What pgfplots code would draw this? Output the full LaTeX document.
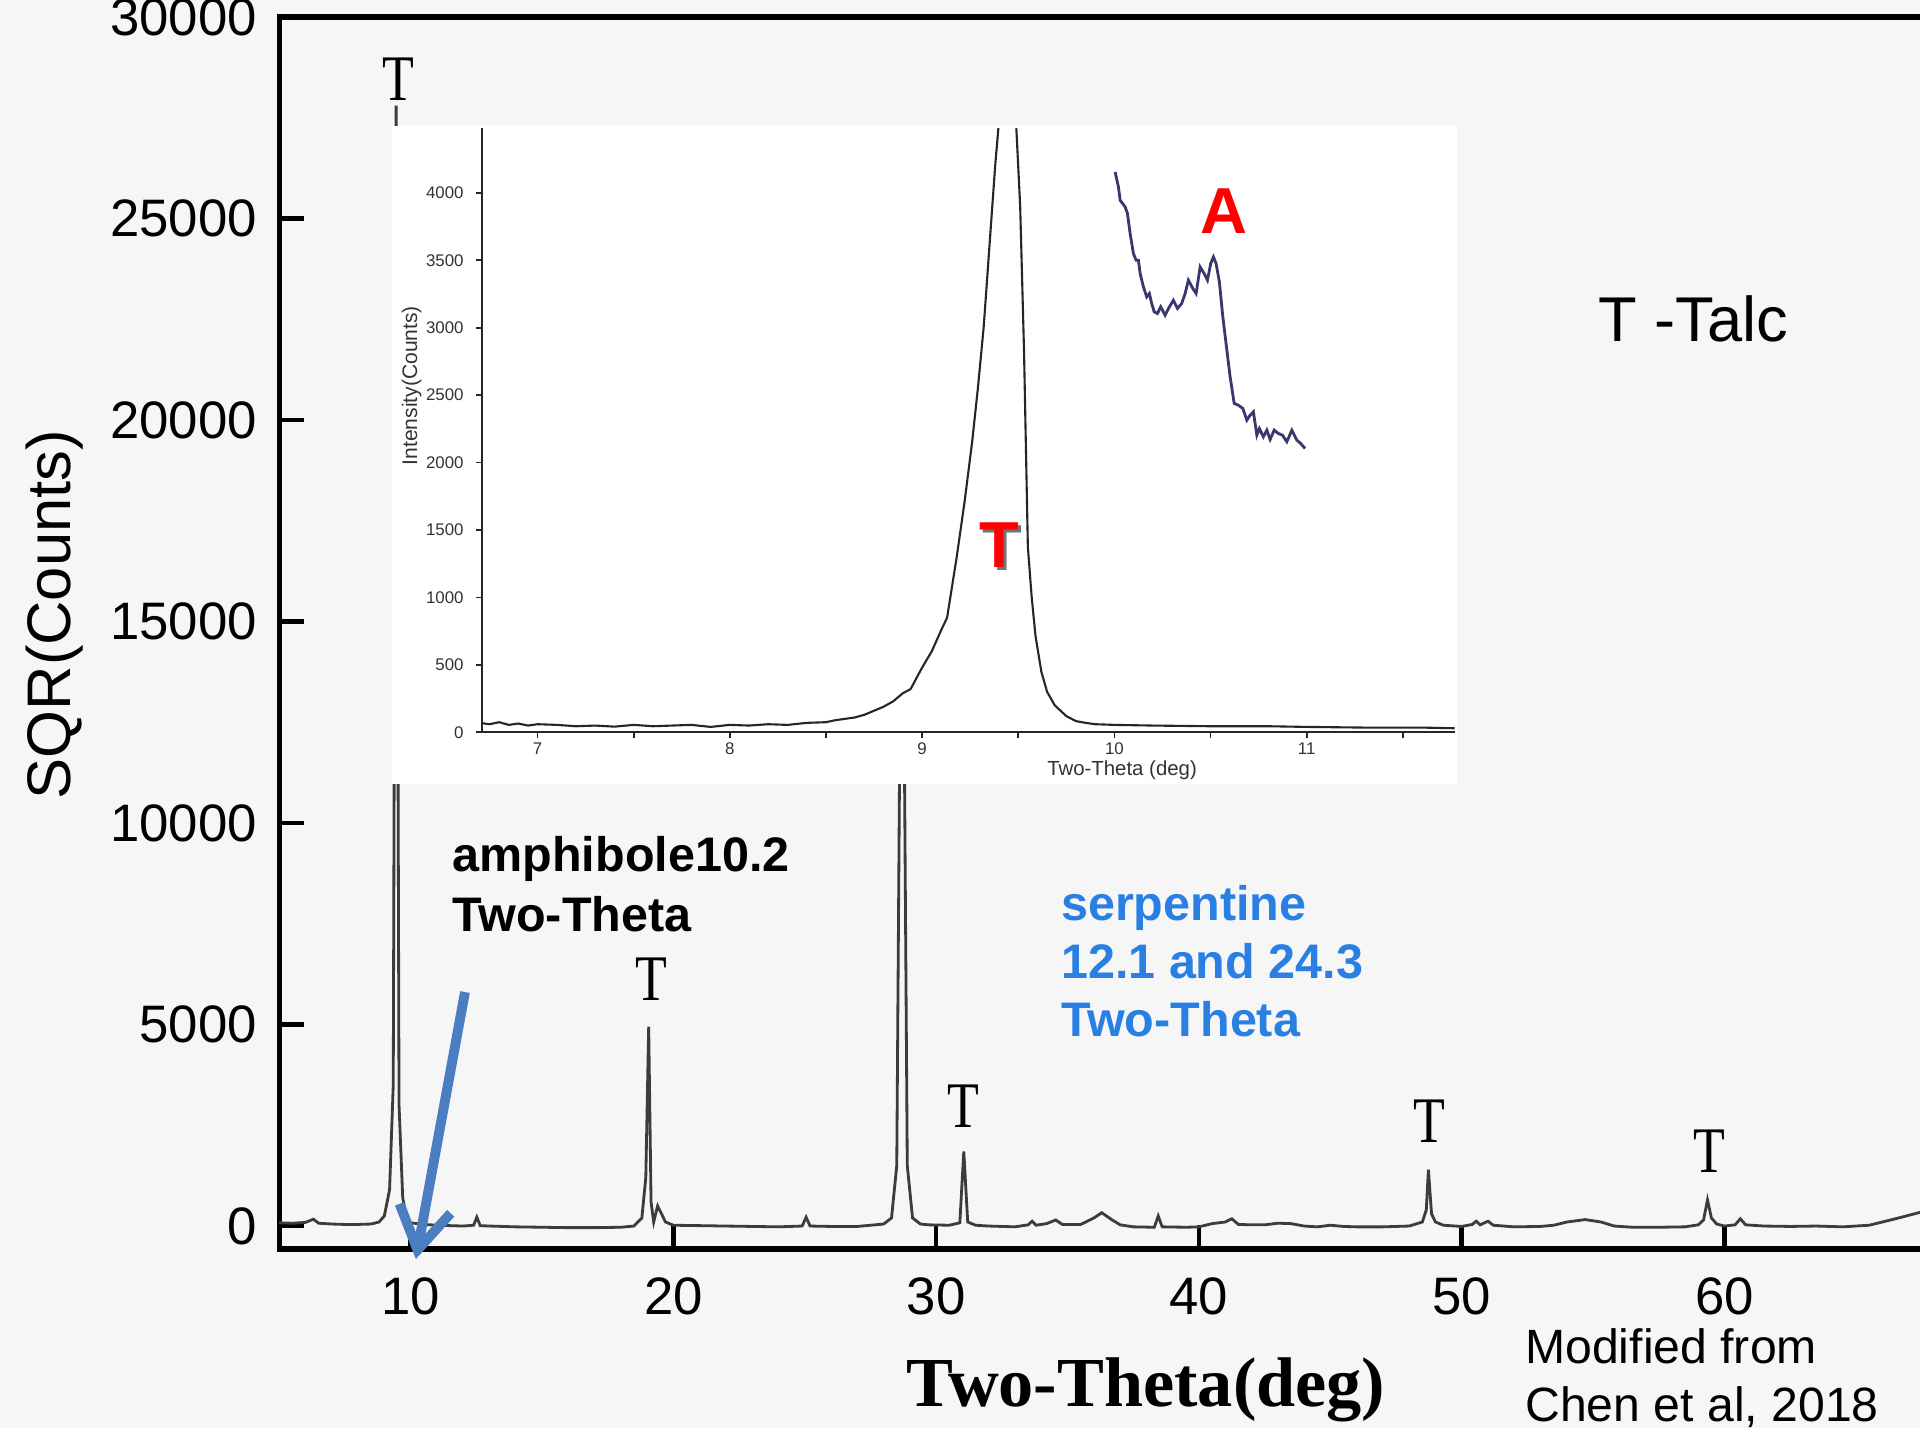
\documentclass[border=0pt]{standalone}
\usepackage{fontspec}
\setmainfont{Liberation Sans}
\newfontfamily\serif{Liberation Serif}
\usepackage{graphicx}
\usepackage{pgfplots}
\pgfplotsset{compat=1.18}
\usetikzlibrary{arrows.meta}
\definecolor{bg}{RGB}{247,246,246}
\definecolor{curve}{RGB}{60,60,60}
\definecolor{serpblue}{RGB}{41,128,226}
\definecolor{arrowblue}{RGB}{74,126,192}
\definecolor{acurve}{RGB}{56,56,110}
\definecolor{tred}{RGB}{255,0,0}
\newcommand{\Tl}{{\fontsize{18.5}{18.5}\serif\scalebox{0.8}[1]{T}}}

\pgfplotstableread{
x y
5.0 80
5.5 70
6.0 90
6.3 170
6.5 70
7.0 50
7.5 40
8.0 40
8.5 50
8.8 100
9.0 250
9.2 900
9.34 3500
9.45 27800
9.56 3000
9.7 700
9.85 200
10.0 80
10.5 40
11.0 20
12.0 0
12.4 20
12.52 220
12.65 10
13.0 0
14.0 -20
15.0 -30
16.0 -40
17.0 -40
18.0 -30
18.5 0
18.8 200
18.95 1200
19.06 4950
19.15 600
19.25 100
19.4 500
19.55 300
19.7 100
20.0 20
21.0 10
22.0 0
23.0 -10
24.0 -20
24.9 0
25.05 220
25.2 0
26.0 -10
27.0 -10
28.0 50
28.3 200
28.5 1500
28.7 20000
28.9 1500
29.1 200
29.4 50
29.7 30
30.5 20
30.9 80
31.05 1850
31.2 100
31.5 20
32.0 0
33.0 -20
33.5 30
33.65 120
33.8 20
34.2 60
34.55 150
34.8 40
35.5 40
36.0 200
36.3 330
36.7 150
37.0 30
37.5 -20
38.3 -30
38.45 250
38.6 -20
39.5 -30
40.0 -20
40.5 60
41.0 100
41.25 180
41.5 40
42.0 30
42.5 30
43.0 70
43.5 60
44.0 0
44.5 -20
45.0 20
45.5 -10
46.0 -20
47.0 -20
47.5 -10
48.0 0
48.5 100
48.65 400
48.73 1400
48.85 300
49.0 100
49.3 20
50.0 -10
50.4 40
50.55 120
50.7 30
51.0 120
51.2 20
52.0 -20
53.0 -10
53.5 20
54.0 100
54.7 160
55.3 100
55.8 0
56.5 -30
57.5 -30
58.5 -20
59.0 30
59.2 150
59.35 650
59.5 200
59.7 50
60.0 0
60.4 30
60.6 180
60.8 30
61.5 0
62.5 -10
63.5 0
64.5 -20
65.5 20
66.5 180
67.5 350
68.0 400
}\maindata

\pgfplotstableread{
x y
6.70 70
6.75 60
6.80 75
6.85 55
6.90 65
6.95 50
7.00 60
7.10 55
7.20 45
7.30 50
7.40 42
7.50 55
7.60 45
7.70 50
7.80 55
7.90 40
8.00 55
8.10 50
8.20 60
8.30 55
8.40 70
8.50 75
8.55 90
8.60 100
8.65 110
8.70 130
8.75 160
8.80 190
8.85 230
8.90 290
8.94 320
9.00 480
9.05 600
9.10 760
9.13 850
9.18 1300
9.22 1700
9.26 2150
9.29 2550
9.32 3000
9.35 3600
9.38 4200
9.41 4700
9.45 6000
9.49 4480
9.51 3900
9.53 2830
9.55 1374
9.57 1000
9.59 712
9.62 450
9.65 300
9.69 200
9.75 120
9.80 83
9.85 70
9.90 60
10.00 55
10.20 50
10.50 45
10.80 45
11.00 40
11.30 35
11.60 35
11.77 30
}\insetdata

\pgfplotstableread{
x y
10.004 4154
10.021 4043
10.030 3944
10.056 3895
10.068 3846
10.082 3697
10.099 3549
10.113 3500
10.125 3500
10.134 3401
10.151 3302
10.168 3228
10.182 3253
10.194 3179
10.207 3117
10.224 3105
10.241 3154
10.264 3092
10.286 3154
10.307 3203
10.328 3142
10.350 3179
10.368 3253
10.385 3352
10.408 3290
10.425 3253
10.446 3450
10.467 3401
10.484 3352
10.501 3475
10.515 3524
10.529 3475
10.546 3339
10.564 3080
10.585 2833
10.602 2635
10.623 2438
10.645 2425
10.668 2401
10.689 2314
10.706 2351
10.723 2376
10.741 2203
10.754 2252
10.775 2191
10.793 2240
10.810 2171
10.831 2240
10.853 2215
10.874 2203
10.897 2154
10.923 2240
10.949 2166
10.969 2141
10.992 2104
}\adata

\begin{document}
\begin{tikzpicture}
\useasboundingbox (0,0) rectangle (19.2,14.28);
\fill[bg] (0,0) rectangle (19.2,14.28);
\begin{axis}[
  at={(2.792cm,1.79cm)}, anchor=south west,
  scale only axis, width=16.556cm, height=12.32cm,
  xmin=5, xmax=68, ymin=-570, ymax=30000,
  xtick={10,20,30,40,50,60},
  ytick={0,5000,10000,15000,20000,25000,30000},
  xtick pos=left, ytick pos=left,
  tick align=inside, major tick length=0.245cm,
  tick style={black, line width=1.3pt},
  axis line style={line width=1.5pt, black},
  scaled y ticks=false, scaled x ticks=false,
  /pgf/number format/assume math mode=true,
  /pgf/number format/1000 sep={},
  yticklabel style={font=\fontsize{15}{15}\selectfont, xshift=-0.1cm},
  xticklabel style={font=\fontsize{15}{15}\selectfont, yshift=-0.16cm},
  clip=false,
]
\addplot[curve, line width=0.8pt] table[x=x,y=y] {\maindata};

\node[inner sep=0] at (axis cs:9.52,28447) {\Tl};
\node[inner sep=0] at (axis cs:19.16,6114) {\Tl};
\node[inner sep=0] at (axis cs:31.05,2985) {\Tl};
\node[inner sep=0] at (axis cs:48.75,2591) {\Tl};
\node[inner sep=0] at (axis cs:59.42,1861) {\Tl};

\node[anchor=west, inner sep=0, align=left, font=\bfseries\fontsize{13.8}{16.8}\selectfont] at (axis cs:11.57,8483) {amphibole10.2\\Two-Theta};
\node[anchor=west, inner sep=0, align=left, text=serpblue, font=\bfseries\fontsize{13.8}{16.4}\selectfont] at (axis cs:34.73,6570) {serpentine\\12.1 and 24.3\\Two-Theta};
\node[anchor=west, inner sep=0, font=\fontsize{18}{18}\selectfont] at (axis cs:55.18,22521) {T -Talc};
\node[anchor=west, inner sep=0, align=left, font=\fontsize{13.7}{16.4}\selectfont] at (axis cs:52.39,-3780) {Modified from\\Chen et al, 2018};
\node[inner sep=0, font=\serif\bfseries\fontsize{20}{20}\selectfont] at (axis cs:37.98,-4065) {Two-Theta(deg)};
\node[rotate=90, inner sep=0, font=\fontsize{17.5}{17.5}\selectfont] at (axis cs:-3.53,15169) {SQR(Counts)};

\draw[line width=2.8pt, arrowblue, -{Straight Barb[length=0.42cm,width=0.52cm]}] (axis cs:12.07,5806) -- (axis cs:10.2,-819);
\end{axis}

\fill[white] (3.918,6.443) rectangle (14.572,13.019);

\begin{axis}[
  at={(4.82cm,6.957cm)}, anchor=south west, scale only axis,
  width=9.727cm, height=6.043cm,
  xmin=6.711, xmax=11.77, ymin=0, ymax=4480,
  axis x line=bottom, axis y line=left,
  axis line style={-, line width=0.6pt, black!85},
  xtick={7,8,9,10,11}, minor xtick={7.5,8.5,9.5,10.5,11.5},
  ytick={0,500,1000,1500,2000,2500,3000,3500,4000},
  tick align=outside, major tick length=0.06cm, minor tick length=0.06cm,
  tick style={black!85, line width=0.5pt},
  ticklabel style={font=\fontsize{4.8}{5}\selectfont, text=black!80},
  xticklabel style={yshift=0.08cm},
  /pgf/number format/assume math mode=true, /pgf/number format/1000 sep={},
  xlabel={Two-Theta (deg)}, ylabel={Intensity(Counts)},
  xlabel style={font=\fontsize{5.8}{6}\selectfont, text=black!80, at={(axis description cs:0.658,-0.062)}, anchor=center},
  ylabel style={font=\fontsize{6}{6}\selectfont, text=black!80, at={(axis description cs:-0.0724,0.5736)}, anchor=center},
  clip=true,
]
\addplot[black!85, line width=0.6pt] table[x=x,y=y] {\insetdata};
\addplot[acurve, line width=0.8pt] table[x=x,y=y] {\adata};
\node[inner sep=0, text=black!55, font=\bfseries\fontsize{18.5}{18.5}\selectfont] at ([xshift=0.03cm,yshift=-0.03cm]axis cs:9.40,1388) {T};
\node[inner sep=0, text=tred, font=\bfseries\fontsize{18.5}{18.5}\selectfont] at (axis cs:9.40,1388) {T};
\node[inner sep=0, text=tred, font=\bfseries\fontsize{18.5}{18.5}\selectfont] at (axis cs:10.57,3866) {A};
\end{axis}
\end{tikzpicture}
\end{document}
